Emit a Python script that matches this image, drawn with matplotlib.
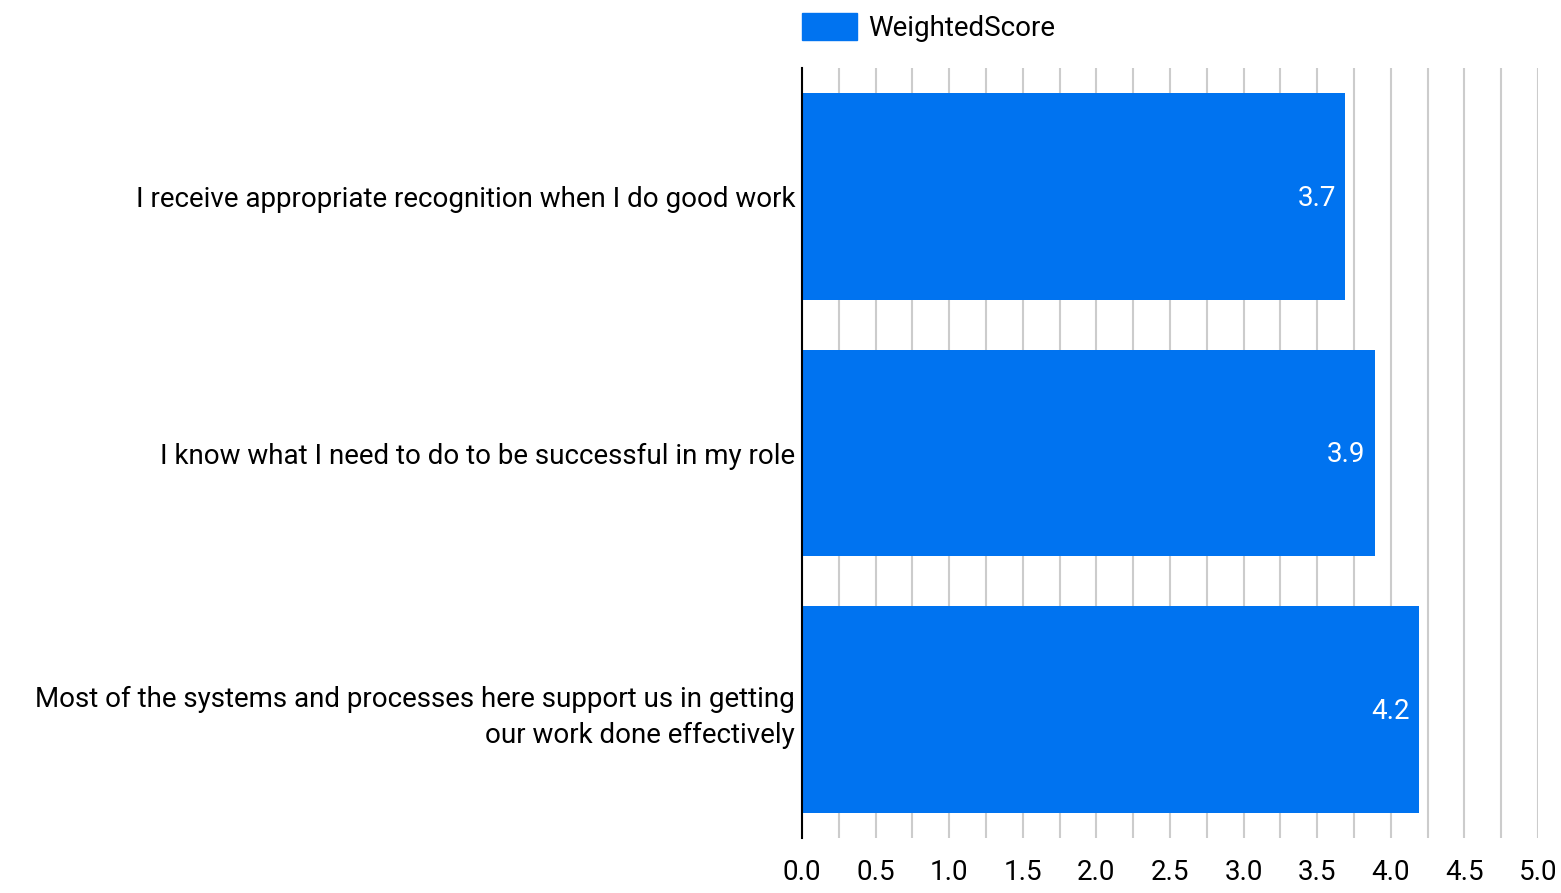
import matplotlib

matplotlib.use("Agg")
import matplotlib.pyplot as plt
from matplotlib.patches import Patch

plt.rcParams["font.family"] = ["Roboto", "DejaVu Sans"]

# statements, top to bottom
questions = [
    "I receive appropriate recognition when I do good work",
    "I know what I need to do to be successful in my role",
    "Most of the systems and processes here support us in getting\nour work done effectively",
]
scores = [3.69, 3.89, 4.19]
x_ticks = [0.0, 0.5, 1.0, 1.5, 2.0, 2.5, 3.0, 3.5, 4.0, 4.5, 5.0]

BLUE = "#0073F0"

fig = plt.figure(figsize=(15.61, 8.93), dpi=100)
ax = fig.add_axes([802 / 1561, 1 - 838 / 893, (1538 - 802) / 1561, (838 - 68) / 893])

ypos = list(range(len(questions)))
ax.barh(ypos, scores, height=0.805, color=BLUE, zorder=3)
for y, v in zip(ypos, scores):
    ax.annotate(f"{v:.1f}", (v, y), xytext=(-9, -2), textcoords="offset pixels",
                ha="right", va="center", color="white", fontsize=20, zorder=4)

ax.set_xlim(0, 5)
ax.set_ylim(2.5, -0.5)
ax.set_xticks(x_ticks)
ax.set_xticks([t + 0.25 for t in x_ticks[:-1]], minor=True)
ax.set_xticklabels([f"{t:.1f}" for t in x_ticks], fontsize=20)
ax.set_yticks(ypos)
ax.set_yticklabels(questions, fontsize=20, ha="right", linespacing=1.42)
ax.tick_params(axis="both", which="both", length=0)
ax.tick_params(axis="x", pad=15)
ax.tick_params(axis="y", pad=5)
ax.grid(axis="x", which="both", color="#CCCCCC", lw=1.5, zorder=0)
for s in ["top", "right", "bottom"]:
    ax.spines[s].set_visible(False)
ax.spines["left"].set_color("black")
ax.spines["left"].set_linewidth(1.5)
ax.spines["left"].set_zorder(5)

fig.legend(handles=[Patch(color=BLUE, label="WeightedScore")],
           loc="upper left", bbox_to_anchor=(802 / 1561, 1 - 13 / 893),
           frameon=False, fontsize=20, borderpad=0, borderaxespad=0,
           handlelength=1.98, handleheight=1.1, handletextpad=0.4)

fig.savefig("out.png", dpi=100)
